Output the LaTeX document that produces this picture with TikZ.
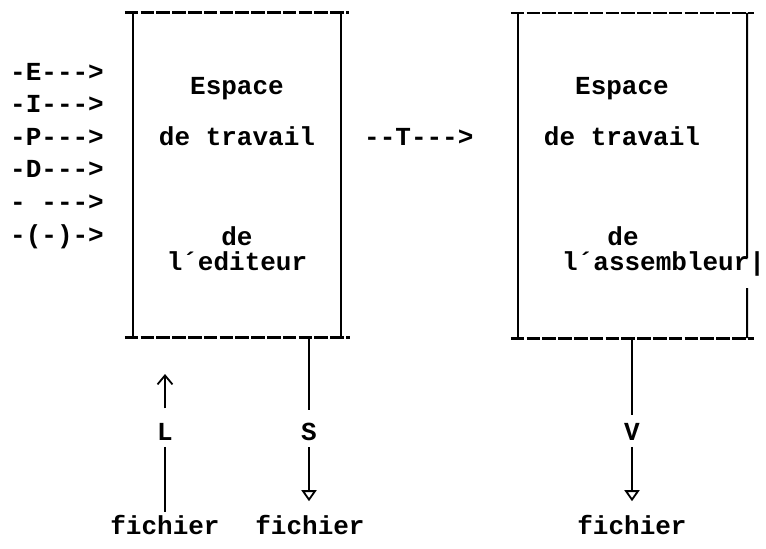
\documentclass[tikz,border=0pt]{standalone}
\usepackage{fontspec}
\setmainfont{Liberation Mono}[Ligatures=TeXOff]
\usetikzlibrary{arrows.meta}
\begin{document}
\begin{tikzpicture}[x=1pt,y=-1pt,
  txt/.style={font=\fontsize{26}{30}\selectfont\bfseries, inner sep=0pt, anchor=mid},
  lbl/.style={txt, anchor=mid west},
  ax/.style={txt, inner sep=6pt},
  fic/.style={txt, inner sep=3pt},
  hline/.style={line width=2.6pt, dash pattern=on 13.5pt off 2.3pt},
  vline/.style={line width=2pt},
  vl/.style={line width=1.8pt},
  downtip/.style={-{Triangle[open,width=15pt,length=11pt]}},
  uptip/.style={-{Straight Barb[length=9pt,width=15pt]}}
]
\useasboundingbox (0,0) rectangle (766,549);
\fill[white] (0,0) rectangle (766,549);

% boxes (frames)
\node[minimum width=208pt, minimum height=325pt, inner sep=0pt] (ed) at (237,175) {};
\node[minimum width=229pt, minimum height=325pt, inner sep=0pt] (as) at (632.5,175.5) {};

\draw[hline] ([xshift=-8pt]ed.north west) -- ([xshift=8pt]ed.north east);
\draw[hline] ([xshift=-8pt]ed.south west) -- ([xshift=9pt]ed.south east);
\draw[vline] (ed.north west) -- (ed.south west);
\draw[vline] (ed.north east) -- (ed.south east);

\draw[hline] ([xshift=-7pt]as.north west) -- ([xshift=7pt]as.north east);
\draw[hline] ([xshift=-7pt]as.south west) -- ([xshift=7pt]as.south east);
\draw[vline] (as.north west) -- (as.south west);
\coordinate (gapA) at (747,258);
\coordinate (gapB) at (747,288);
\draw[vline] (as.north east) -- (gapA);
\draw[vline] (gapB) -- (as.south east);

% left box text
\node[txt] (e1) at (237,92) {Espace};
\node[txt] (e2) at (237,143) {de travail};
\node[txt] (e3) at (237,243) {de};
\node[txt] (e4) at (237,268) {l´editeur};

% right box text
\node[txt] (a1) at (622,92) {Espace};
\node[txt] (a2) at (622,143) {de travail};
\node[txt] (a3) at (623,243) {de};
\node[lbl] (a4) at (562,268) {l´assembleur|};

% left commands
\node[lbl] (cE) at (10,78) {-E--->};
\node[lbl] (cI) at (10,110) {-I--->};
\node[lbl] (cP) at (10,143) {-P--->};
\node[lbl] (cD) at (10,175) {-D--->};
\node[lbl] (cB) at (10,208) {- --->};
\node[lbl] (cM) at (10,241) {-(-)->};

% transfer
\node[lbl] (cT) at (364,143) {--T--->};

% bottom labels
\node[ax] (L) at (165,438) {L};
\node[ax] (S) at (309,438) {S};
\node[ax] (V) at (632,438) {V};
\node[fic] (f1) at (165,532) {fichier};
\node[fic] (f2) at (310,532) {fichier};
\node[fic] (f3) at (632,532) {fichier};
\coordinate (Ltop) at (165,374);

% connectors
\draw[vl] (L.south) -- (L.south |- f1.north);
\draw[vl, uptip, shorten <=9pt] (L.north) -- (Ltop);

\draw[vl, shorten >=7pt] (ed.south -| S) -- (S.north);
\draw[vl, downtip, shorten >=11pt] (S.south) -- (S.south |- f2.north);

\draw[vl, shorten >=2pt] (as.south -| V) -- (V.north);
\draw[vl, downtip, shorten >=11pt] (V.south) -- (V.south |- f3.north);
\end{tikzpicture}
\end{document}
